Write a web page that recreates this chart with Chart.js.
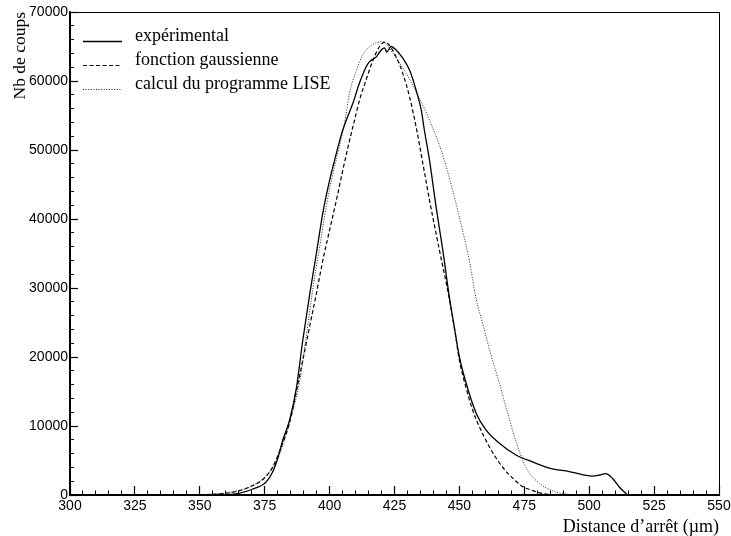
<!DOCTYPE html>
<html><head><meta charset="utf-8">
<script src="https://cdn.jsdelivr.net/npm/chart.js@4/dist/chart.umd.min.js"></script>
<style>html,body{margin:0;padding:0;background:#fff}#wrap{width:731px;height:536px}</style>
</head><body><div id="wrap"><canvas id="c"></canvas></div>
<script>
// Series names
const seriesNames = ["expérimental", "fonction gaussienne", "calcul du programme LISE"];
// Axis titles
const xTitle = "Distance d’arrêt (µm)";
const yTitle = "Nb de coups";
// Experimental
const expX = [355,360,365,370,375.6,378,380,382,384.6,387.2,389.7,392.3,394.9,397.4,400,402.6,404.5,406.4,409,411.5,414,415.4,418,419.9,421.2,422,423.7,425.6,428.2,430.8,433.3,435.3,436.5,438.5,441,443.6,446.2,448,450,452.6,456.4,460.3,465.4,471.8,478.2,484.6,492.3,501.3,504,506.4,509,511.5,514.7];
const expY = [0,50,250,800,1900,3300,5300,8000,10900,15500,22500,29000,35000,40900,45600,49500,52200,54300,56800,59700,62000,62800,63500,64500,64800,64200,65000,64500,63300,61600,58700,55800,52900,48500,41800,35500,28500,24400,20000,16200,11900,9400,7500,5800,4800,3900,3400,2750,2900,3100,2400,1200,0];
// Gaussian fit
const gauX = [350,355,360,365,370,375,378,381.4,384.6,387.2,389.7,392.3,394.9,397.4,400,402.6,405.1,407.7,409.6,411.5,414,416.7,419.2,421.2,423,425.6,428.2,430.8,433.3,435.9,438.5,442.3,446.2,448,450,452.6,455.1,457.7,461.5,466.7,471.8,474.4,478.2,481,487];
const gauY = [0,100,250,600,1300,2500,4000,7000,10500,15000,19600,24400,29200,34000,38400,42700,47100,51400,54300,57200,60100,63000,65000,65600,65200,63500,61100,57700,53400,48100,42700,35500,28300,24400,19500,15500,12300,9900,7000,4000,2000,1200,650,300,0];
// LISE calculation
const liseX = [350,355,360,365,370,375,380,383,385.9,388.5,391,393.6,396.2,398.7,401.3,403.8,405.8,407.7,410.3,412.8,416.7,420.5,424.4,429.5,434.6,438.5,442.3,444.9,447.4,451.3,453.8,456.4,459,461.5,465.4,468.5,471.8,475.6,480.8,485.8,490,497];
const liseY = [0,100,300,650,1300,2600,5200,8500,12300,16500,23000,30000,36000,41800,46600,50500,54000,58300,61500,63800,65300,65700,64000,61100,57500,54300,50700,47600,44200,38200,34000,28500,24800,21200,16200,12000,7800,4000,1700,600,200,0];
// Axis ranges / ticks
const xMin = 300, xMax = 550, xMajor = 25, xMinor = 5;
const yMin = 0, yMax = 70000, yMajor = 10000, yMinor = 2000;

function pts(xs, ys){ return xs.map((x,i)=>({x:x,y:ys[i]})); }

const styles = [
  {color:'#000', width:1.3, dash:[]},
  {color:'#000', width:1.2, dash:[4,2.5]},
  {color:'#222', width:1, dash:[1,1.6]}
];

const frame = {
  id:'frame',
  afterDraw(chart){
    const a = chart.chartArea, ctx = chart.ctx;
    ctx.save(); ctx.strokeStyle='#000'; ctx.lineWidth=1;
    ctx.strokeRect(Math.round(a.left)+0.5, Math.round(a.top)+0.5, Math.round(a.right-a.left), Math.round(a.bottom-a.top));
    ctx.restore();
  }
};
const legendPlugin = {
  id:'customLegend',
  afterDraw(chart){
    const ctx = chart.ctx;
    ctx.save();
    ctx.font = '18px "Liberation Serif", "Times New Roman", serif';
    ctx.fillStyle = '#000';
    ctx.textBaseline = 'alphabetic';
    const baselines = [41, 65, 89];
    chart.data.datasets.forEach((ds,i)=>{
      const y = baselines[i];
      ctx.beginPath();
      ctx.strokeStyle = ds.borderColor; ctx.lineWidth = ds.borderWidth;
      ctx.setLineDash(ds.borderDash||[]);
      ctx.moveTo(83, y+0.5); ctx.lineTo(122, y+0.5); ctx.stroke();
      ctx.setLineDash([]);
      ctx.fillText(ds.label, 135, y);
    });
    ctx.restore();
  }
};

const tickFont = {family:'"Liberation Sans", Arial, Helvetica, sans-serif', size:14};
const xTitleFont = {family:'"Liberation Serif", "Times New Roman", serif', size:18, lineHeight:1};
const yTitleFont = {family:'"Liberation Serif", "Times New Roman", serif', size:17.5, lineHeight:1};

function noPad(s){ s.paddingLeft = 0; s.paddingRight = 0; s.paddingTop = 0; s.paddingBottom = 0; }

new Chart(document.getElementById('c'), {
  type:'line',
  data:{datasets:[
    {label:seriesNames[0], data:pts(expX,expY)},
    {label:seriesNames[1], data:pts(gauX,gauY)},
    {label:seriesNames[2], data:pts(liseX,liseY)}
  ].map((d,i)=>Object.assign(d,{borderColor:styles[i].color,borderWidth:styles[i].width,borderDash:styles[i].dash,pointRadius:0,fill:false,cubicInterpolationMode:'monotone'}))},
  options:{
    responsive:true, maintainAspectRatio:false, animation:false,
    layout:{padding:{top:12, right:12, left:0, bottom:0}},
    plugins:{legend:{display:false}, tooltip:{enabled:false}},
    scales:{
      x:{type:'linear', position:'bottom', min:xMin, max:xMax,
        afterFit(s){ s.height = 41; noPad(s); },
        border:{display:true, color:'#000', width:1.5},
        grid:{drawOnChartArea:false, drawTicks:true, tickLength:-9, color:'#000', tickWidth:1.2},
        ticks:{stepSize:xMajor, font:tickFont, color:'#000', padding:12, maxRotation:0, autoSkip:false, callback:v=>String(v)},
        title:{display:true, text:xTitle, align:'end', font:xTitleFont, color:'#000', padding:{top:0,bottom:0}}
      },
      xm:{type:'linear', position:{y:0}, min:xMin, max:xMax,
        afterFit(s){ noPad(s); },
        border:{display:false},
        grid:{drawOnChartArea:false, drawTicks:true, tickLength:-4.5, color:'#000', tickWidth:1},
        ticks:{stepSize:xMinor, display:false, autoSkip:false}
      },
      y:{type:'linear', position:'left', min:yMin, max:yMax,
        afterFit(s){ s.width = 70; noPad(s); },
        border:{display:true, color:'#000', width:1.5},
        grid:{drawOnChartArea:false, drawTicks:true, tickLength:-8, color:'#000', tickWidth:1.2},
        ticks:{stepSize:yMajor, font:tickFont, color:'#000', padding:10, autoSkip:false, callback:v=>String(v)},
        title:{display:true, text:yTitle, align:'end', font:yTitleFont, color:'#000', padding:{top:12,bottom:0}}
      },
      ym:{type:'linear', position:{x:xMin}, min:yMin, max:yMax,
        afterFit(s){ noPad(s); },
        border:{display:false},
        grid:{drawOnChartArea:false, drawTicks:true, tickLength:-4, color:'#000', tickWidth:1},
        ticks:{stepSize:yMinor, display:false, autoSkip:false}
      }
    }
  },
  plugins:[frame, legendPlugin]
});
</script></body></html>
